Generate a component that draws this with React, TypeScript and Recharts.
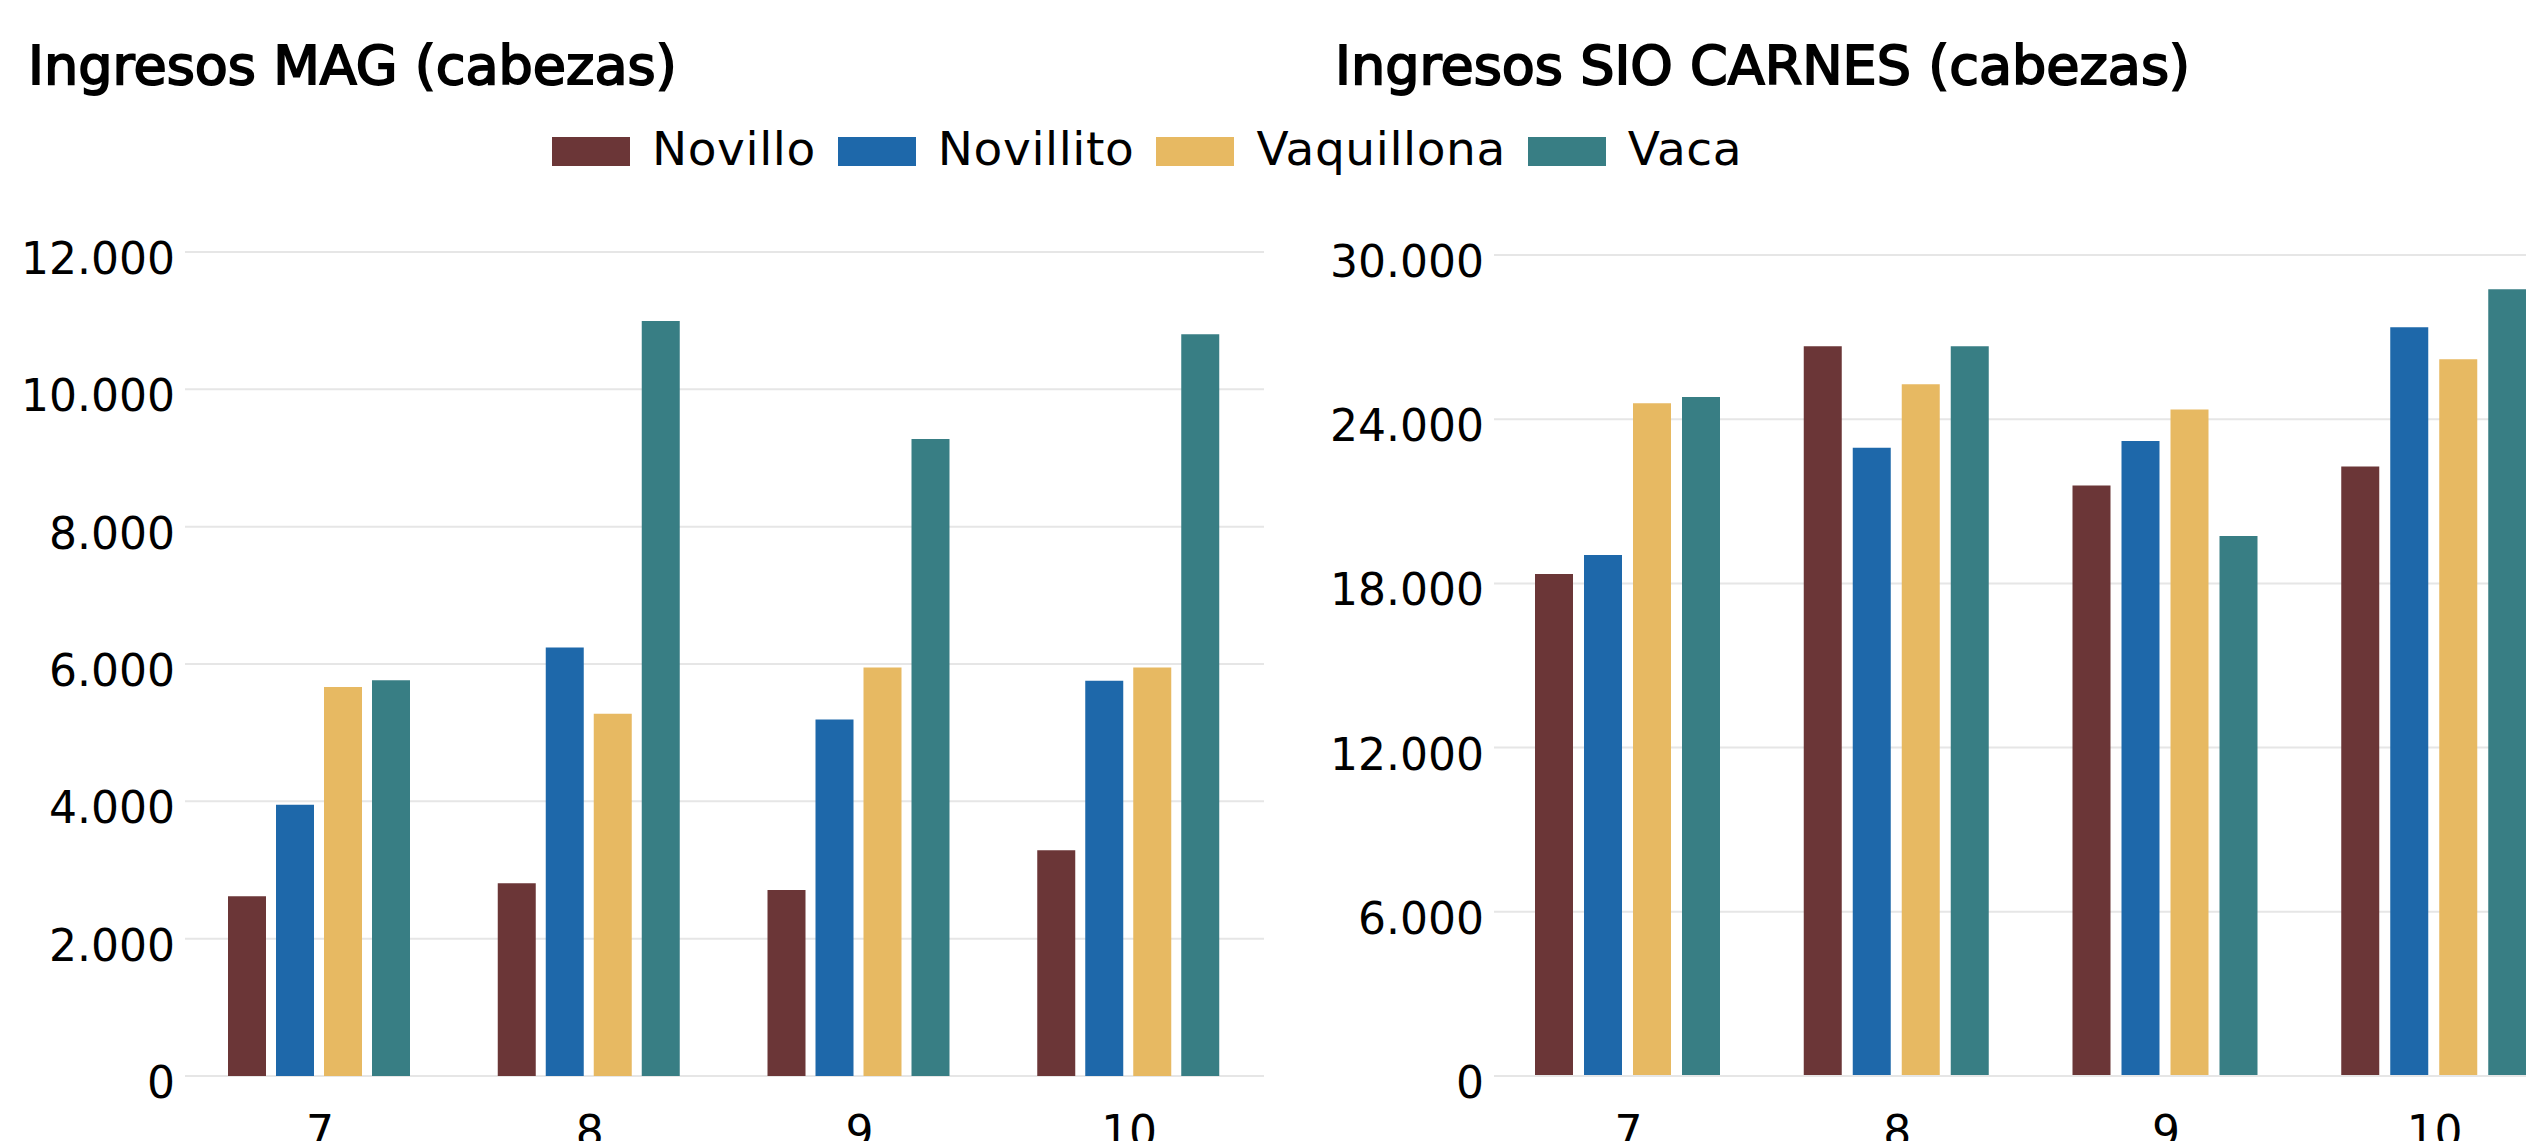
import { BarChart, Bar, XAxis, YAxis, CartesianGrid, ReferenceLine } from "recharts";

const FONT = "'DejaVu Sans', 'Noto Sans', sans-serif";

const MONTHS = ["7", "8", "9", "10"];
const SERIES = ["Novillo", "Novillito", "Vaquillona", "Vaca"];
const COLORS = ["#6B3637", "#1E68AA", "#E7B962", "#387E84"];

// Ingresos MAG (cabezas)
const magNovillo = [2617, 2806, 2710, 3287];
const magNovillito = [3952, 6239, 5190, 5757];
const magVaquillona = [5665, 5277, 5949, 5949];
const magVaca = [5763, 10996, 9276, 10804];
const magTicks = [0, 2000, 4000, 6000, 8000, 10000, 12000];

// Ingresos SIO CARNES (cabezas)
const sioNovillo = [18340, 26670, 21576, 22272];
const sioNovillito = [19037, 22958, 23199, 27356];
const sioVaquillona = [24582, 25278, 24350, 26194];
const sioVaca = [24813, 26670, 19732, 28748];
const sioTicks = [0, 6000, 12000, 18000, 24000, 30000];

const toRows = (cols: number[][]) =>
  MONTHS.map((m, i) => {
    const row: Record<string, string | number> = { mes: m };
    SERIES.forEach((s, j) => (row[s] = cols[j][i]));
    return row;
  });

const magData = toRows([magNovillo, magNovillito, magVaquillona, magVaca]);
const sioData = toRows([sioNovillo, sioNovillito, sioVaquillona, sioVaca]);

const fmt = (v: number) => String(v).replace(/\B(?=(\d{3})+(?!\d))/g, ".");

function YTick({ x, y, payload }: any) {
  return (
    <text x={x} y={y + 22} textAnchor="end" fontSize={44} fill="#000" fontFamily={FONT}>
      {fmt(payload.value)}
    </text>
  );
}

function XTick({ x, y, payload }: any) {
  return (
    <text x={x} y={y + 71} textAnchor="middle" fontSize={44} fill="#000" fontFamily={FONT}>
      {payload.value}
    </text>
  );
}

function Panel({ data, ticks, max, yWidth, top, right, catGap, barGap, zeroLine }: any) {
  return (
    <BarChart
      width={1300}
      height={941}
      data={data}
      margin={{ top, right, left: 0, bottom: 0 }}
      barCategoryGap={catGap}
      barGap={barGap}
    >
      <CartesianGrid vertical={false} stroke="#e6e6e6" strokeWidth={2} />
      <XAxis dataKey="mes" axisLine={false} tickLine={false} tickSize={0} tickMargin={0} height={65} tick={XTick} interval={0} />
      <YAxis
        domain={[0, max]}
        ticks={ticks}
        axisLine={false}
        tickLine={false}
        tickSize={0}
        tickMargin={10}
        width={yWidth}
        tick={YTick}
        interval={0}
      />
      {SERIES.map((s, i) => (
        <Bar key={s} dataKey={s} fill={COLORS[i]} isAnimationActive={false} />
      ))}
      {zeroLine && <ReferenceLine y={0} stroke="#e6e6e6" strokeWidth={2} />}
    </BarChart>
  );
}

const titleStyle: React.CSSProperties = {
  position: "absolute",
  top: 39,
  fontFamily: FONT,
  fontSize: 54,
  lineHeight: "54px",
  color: "#000",
  whiteSpace: "nowrap",
  WebkitTextStroke: "1.9px #000",
};

export default function App() {
  return (
    <div
      style={{
        position: "absolute",
        left: 0,
        top: 0,
        width: 2526,
        height: 1141,
        overflow: "hidden",
        background: "#fff",
        fontFamily: FONT,
      }}
    >
      <div style={{ ...titleStyle, left: 28 }}>Ingresos MAG (cabezas)</div>
      <div style={{ ...titleStyle, left: 1335 }}>Ingresos SIO CARNES (cabezas)</div>

      <div style={{ position: "absolute", left: 552, top: 137, height: 29, display: "flex", alignItems: "center" }}>
        {SERIES.map((s, i) => (
          <div key={s} style={{ display: "flex", alignItems: "center", marginRight: 22 }}>
            <div style={{ width: 78, height: 29, background: COLORS[i], marginRight: 22 }} />
            <span style={{ fontSize: 47, lineHeight: "29px", position: "relative", top: -3, whiteSpace: "nowrap", letterSpacing: 0.6 }}>{s}</span>
          </div>
        ))}
      </div>

      <div style={{ position: "absolute", left: 0, top: 200 }}>
        <Panel data={magData} ticks={magTicks} max={12000} yWidth={185} top={52} right={36} catGap={43} barGap={10} />
      </div>
      <div style={{ position: "absolute", left: 1300, top: 200 }}>
        <Panel data={sioData} ticks={sioTicks} max={30000} yWidth={194} top={55} right={31} catGap={41} barGap={11} zeroLine />
      </div>
    </div>
  );
}
